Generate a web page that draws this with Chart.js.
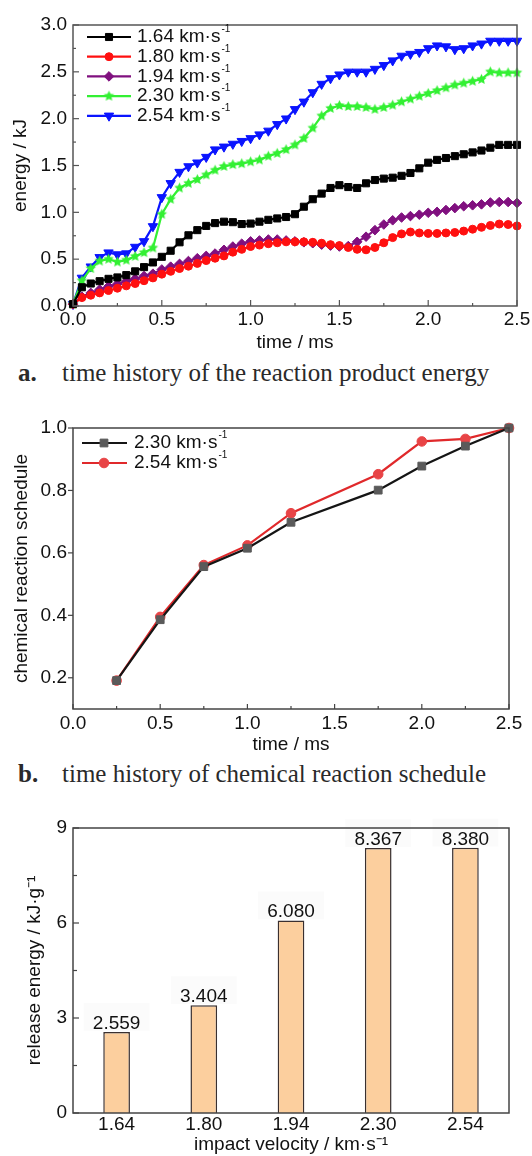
<!DOCTYPE html>
<html><head><meta charset="utf-8">
<script src="https://cdn.jsdelivr.net/npm/chart.js@4/dist/chart.umd.min.js"></script>
<style>
body{margin:0;background:#fff;width:532px;height:1156px;position:relative;overflow:hidden}
canvas{position:absolute;left:0}
.cap{position:absolute;left:0;width:532px;height:28px;line-height:28px;font-family:"Liberation Serif","DejaVu Serif",serif;font-size:25px;color:#2a2a2a;white-space:nowrap}
.cap b{position:absolute;left:18px}
.cap span{position:absolute;left:62px}
</style></head><body>
<canvas id="ca" width="532" height="356" style="top:0"></canvas>
<div class="cap" style="top:359px"><b>a.</b><span>time history of the reaction product energy</span></div>
<canvas id="cb" width="532" height="370" style="top:390px"></canvas>
<div class="cap" style="top:760px"><b>b.</b><span>time history of chemical reaction schedule</span></div>
<canvas id="cc" width="532" height="366" style="top:790px"></canvas>
<script>
// ===== data: panel a =====
const timeA = [0,0.05,0.1,0.15,0.2,0.25,0.3,0.35,0.4,0.45,0.5,0.55,0.6,0.65,0.7,0.75,0.8,0.85,0.9,0.95,1.0,1.05,1.1,1.15,1.2,1.25,1.3,1.35,1.4,1.45,1.5,1.55,1.6,1.65,1.7,1.75,1.8,1.85,1.9,1.95,2.0,2.05,2.1,2.15,2.2,2.25,2.3,2.35,2.4,2.45,2.5];
const energy164 = [0.02,0.20,0.24,0.265,0.29,0.305,0.33,0.37,0.415,0.465,0.525,0.59,0.68,0.755,0.81,0.855,0.885,0.90,0.895,0.875,0.88,0.90,0.92,0.935,0.95,0.98,1.06,1.14,1.20,1.26,1.29,1.27,1.26,1.31,1.345,1.36,1.37,1.39,1.42,1.47,1.53,1.56,1.58,1.60,1.62,1.64,1.66,1.69,1.72,1.72,1.72];
const energy180 = [0.02,0.09,0.115,0.14,0.165,0.19,0.215,0.24,0.27,0.30,0.34,0.37,0.40,0.425,0.455,0.485,0.51,0.535,0.575,0.605,0.635,0.65,0.665,0.675,0.685,0.685,0.685,0.68,0.67,0.655,0.645,0.625,0.605,0.60,0.625,0.675,0.73,0.77,0.79,0.78,0.775,0.775,0.78,0.785,0.80,0.82,0.84,0.86,0.875,0.87,0.855];
const energy194 = [0.02,0.10,0.14,0.175,0.21,0.235,0.265,0.29,0.32,0.345,0.39,0.42,0.45,0.48,0.51,0.535,0.56,0.60,0.635,0.665,0.69,0.70,0.71,0.71,0.70,0.69,0.68,0.67,0.655,0.645,0.635,0.64,0.685,0.74,0.81,0.87,0.915,0.945,0.96,0.975,0.995,1.005,1.025,1.045,1.065,1.075,1.085,1.105,1.11,1.11,1.10];
const energy230 = [0.02,0.27,0.40,0.48,0.50,0.47,0.49,0.53,0.57,0.62,0.98,1.14,1.26,1.31,1.35,1.40,1.45,1.49,1.51,1.52,1.54,1.56,1.60,1.63,1.67,1.72,1.79,1.90,2.03,2.11,2.14,2.13,2.13,2.12,2.10,2.12,2.145,2.18,2.21,2.24,2.27,2.30,2.33,2.36,2.38,2.40,2.42,2.50,2.49,2.49,2.49];
const energy254 = [0.02,0.30,0.42,0.52,0.57,0.55,0.56,0.63,0.69,0.85,1.16,1.31,1.43,1.49,1.53,1.59,1.67,1.70,1.73,1.76,1.79,1.83,1.87,1.94,2.00,2.10,2.18,2.28,2.37,2.43,2.47,2.50,2.50,2.50,2.53,2.57,2.62,2.67,2.69,2.71,2.75,2.78,2.77,2.74,2.75,2.78,2.80,2.83,2.83,2.83,2.83];
const velocityNames = ['1.64','1.80','1.94','2.30','2.54'];
const timeTicks = [0,0.5,1.0,1.5,2.0,2.5];
const timeMinor = [0.25,0.75,1.25,1.75,2.25];
const energyTicks = [0,0.5,1.0,1.5,2.0,2.5,3.0];
const energyMinor = [0.25,0.75,1.25,1.75,2.25,2.75];
// ===== data: panel b =====
const timeB = [0.25,0.5,0.75,1.0,1.25,1.75,2.0,2.25,2.5];
const schedule230 = [0.191,0.386,0.556,0.615,0.698,0.801,0.878,0.942,1.0];
const schedule254 = [0.191,0.395,0.561,0.624,0.727,0.852,0.957,0.965,1.0];
const scheduleNames = ['2.30','2.54'];
const scheduleTicks = [0.2,0.4,0.6,0.8,1.0];
// ===== data: panel c =====
const impactVelocity = ['1.64','1.80','1.94','2.30','2.54'];
const releaseEnergy = [2.559,3.404,6.080,8.367,8.380];
const releaseTicks = [0,3,6,9];
const releaseMinor = [1.5,4.5,7.5];

const F = "'Liberation Sans Narrow','Arial Narrow','Liberation Sans',Arial,sans-serif";
const FS = 19;
Chart.defaults.font.family = F;
Chart.defaults.font.size = FS;
Chart.defaults.color = '#111';

function pts(xs, ys){ return xs.map((x,i)=>({x:x, y:ys[i]})); }

function starCanvas(color, r){
  const s = Math.ceil(r*2+2), c = document.createElement('canvas');
  c.width = c.height = s;
  const g = c.getContext('2d');
  g.fillStyle = color; g.beginPath();
  for (let i=0;i<10;i++){
    const a = -Math.PI/2 + i*Math.PI/5, rr = i%2 ? r*0.48 : r;
    g.lineTo(s/2 + rr*Math.cos(a), s/2 + rr*Math.sin(a));
  }
  g.closePath(); g.fill();
  return c;
}

function framePlugin(o){
  return {id:'frame', afterDraw(chart){
    const {ctx, chartArea:a} = chart;
    ctx.save();
    ctx.strokeStyle = o.color; ctx.lineWidth = o.width;
    ctx.strokeRect(a.left, a.top, a.right-a.left, a.bottom-a.top);
    ctx.lineWidth = o.tickWidth;
    const xs = chart.scales.x, ys = chart.scales.y;
    function draw(list, len, axis, dir){
      (list||[]).forEach(v=>{
        ctx.beginPath();
        if (axis==='x'){ const p = xs.getPixelForValue(v); ctx.moveTo(p, a.bottom); ctx.lineTo(p, a.bottom - dir*len); }
        else { const p = ys.getPixelForValue(v); ctx.moveTo(a.left, p); ctx.lineTo(a.left + dir*len, p); }
        ctx.stroke();
      });
    }
    if (o.x){ draw(o.x.major, o.x.len, 'x', o.x.dir); draw(o.x.minor, o.x.mlen, 'x', o.x.dir); }
    if (o.y){ draw(o.y.major, o.y.len, 'y', o.y.dir); draw(o.y.minor, o.y.mlen, 'y', o.y.dir); }
    ctx.restore();
  }};
}

function legendPlugin(o){
  return {id:'clegend', afterDraw(chart){
    const ctx = chart.ctx;
    ctx.save();
    chart.data.datasets.forEach((ds,i)=>{
      const y = o.y0 + i*o.dy;
      ctx.strokeStyle = ds.borderColor; ctx.lineWidth = ds.borderWidth;
      ctx.beginPath(); ctx.moveTo(o.x0, y); ctx.lineTo(o.x1, y); ctx.stroke();
      ctx.fillStyle = ds.pointBackgroundColor; ctx.strokeStyle = ds.pointBorderColor; ctx.lineWidth = 1;
      Chart.helpers.drawPoint(ctx, {pointStyle: ds.pointStyle, radius: ds.pointRadius, rotation: ds.pointRotation||0, borderWidth: 1}, o.xm, y);
      ctx.fillStyle = '#111'; ctx.textBaseline = 'middle'; ctx.textAlign = 'left';
      ctx.font = o.size + 'px ' + F;
      const base = ds.legendText;
      ctx.fillText(base, o.xt, y);
      const w = ctx.measureText(base).width;
      ctx.font = Math.round(o.size*0.55) + 'px ' + F;
      ctx.fillText('-1', w + o.xt + 1, y - o.size*0.4);
    });
    ctx.restore();
  }};
}

function fixW(w){ return s=>{ s.width = w; s.paddingTop = 0; s.paddingBottom = 0; }; }
function fixH(h){ return s=>{ s.height = h; s.paddingLeft = 0; s.paddingRight = 0; }; }
function setTicks(list){ return s=>{ s.ticks = list.map(v=>({value:v})); }; }

function lineDs(name, ys, color, style, r, rot){
  return {label: name + ' km·s⁻¹', legendText: name + ' km·s', data: pts(timeA, ys), borderColor: color, borderWidth: 2.2,
    pointStyle: style, pointRadius: r, pointRotation: rot, pointBackgroundColor: color, pointBorderColor: color,
    pointBorderWidth: 1, pointHoverRadius: r, clip: false, tension: 0};
}

// ===== chart a =====
new Chart(document.getElementById('ca'), {
  type: 'line',
  data: {datasets: [
    lineDs(velocityNames[0], energy164, '#000000', 'rect', 5, 0),
    lineDs(velocityNames[1], energy180, '#ff1010', 'circle', 4, 0),
    lineDs(velocityNames[2], energy194, '#80107f', 'rectRot', 4.8, 0),
    lineDs(velocityNames[3], energy230, '#33f033', starCanvas('#33f033', 5.5), 5.5, 0),
    lineDs(velocityNames[4], energy254, '#0a14ff', 'triangle', 5.4, 180)
  ]},
  options: {
    responsive: false, animation: false,
    layout: {padding: {top: 25, right: 15, left: 0, bottom: 0}},
    plugins: {legend: {display: false}, tooltip: {enabled: false}},
    scales: {
      x: {type: 'linear', min: 0, max: 2.5, afterFit: fixH(50), afterBuildTicks: setTicks(timeTicks),
        ticks: {padding: 2, maxRotation: 0, autoSkip: false, callback: v=>v.toFixed(1)},
        grid: {display: false, drawTicks: false}, border: {display: false},
        title: {display: true, text: 'time / ms', padding: {top: 0, bottom: 2}}},
      y: {type: 'linear', min: 0, max: 3, afterFit: fixW(73), afterBuildTicks: setTicks(energyTicks),
        ticks: {padding: 6, autoSkip: false, callback: v=>v.toFixed(1)},
        grid: {display: false, drawTicks: false}, border: {display: false},
        title: {display: true, text: 'energy / kJ', padding: {top: 9, bottom: 0}}}
    }
  },
  plugins: [framePlugin({color:'#555', width:1.5, tickWidth:1.2,
    x:{major:timeTicks, minor:timeMinor, len:6, mlen:3, dir:1},
    y:{major:energyTicks, minor:energyMinor, len:6, mlen:3, dir:1}}),
    legendPlugin({x0:87, x1:131, xm:109, xt:137, y0:37, dy:19.7, size:FS})]
});

// ===== chart b =====
new Chart(document.getElementById('cb'), {
  type: 'line',
  data: {datasets: [
    {label: scheduleNames[0] + ' km·s⁻¹', legendText: scheduleNames[0] + ' km·s', data: pts(timeB, schedule230), borderColor: '#151515', borderWidth: 2.2,
      pointStyle: 'rect', pointRadius: 5.5, pointBackgroundColor: '#5a5a5a', pointBorderColor: '#5a5a5a', pointBorderWidth: 1, clip: false},
    {label: scheduleNames[1] + ' km·s⁻¹', legendText: scheduleNames[1] + ' km·s', data: pts(timeB, schedule254), borderColor: '#e0292b', borderWidth: 2.2,
      pointStyle: 'circle', pointRadius: 4.8, pointBackgroundColor: '#e84446', pointBorderColor: '#e84446', pointBorderWidth: 1, clip: false}
  ]},
  options: {
    responsive: false, animation: false,
    layout: {padding: {top: 38, right: 23, left: 0, bottom: 0}},
    plugins: {legend: {display: false}, tooltip: {enabled: false}},
    scales: {
      x: {type: 'linear', min: 0, max: 2.5, afterFit: fixH(51), afterBuildTicks: setTicks(timeTicks),
        ticks: {padding: 3, maxRotation: 0, autoSkip: false, callback: v=>v.toFixed(1)},
        grid: {display: false, drawTicks: false}, border: {display: false},
        title: {display: true, text: 'time / ms', padding: {top: 0, bottom: 4}}},
      y: {type: 'linear', min: 0.1, max: 1.0, afterFit: fixW(73), afterBuildTicks: setTicks(scheduleTicks),
        ticks: {padding: 6, autoSkip: false, callback: v=>v.toFixed(1)},
        grid: {display: false, drawTicks: false}, border: {display: false},
        title: {display: true, text: 'chemical reaction schedule', padding: {top: 10, bottom: 0}}}
    }
  },
  plugins: [framePlugin({color:'#444', width:1.5, tickWidth:1.2,
    x:{major:timeTicks, minor:timeMinor, len:5, mlen:3, dir:1},
    y:{major:scheduleTicks, minor:[], len:5, mlen:3, dir:-1}}),
    legendPlugin({x0:82, x1:127, xm:104, xt:134, y0:53, dy:20, size:FS})]
});

// ===== chart c =====
const barLabelPlugin = {id:'barLabels', afterDatasetsDraw(chart){
  const ctx = chart.ctx, meta = chart.getDatasetMeta(0), ds = chart.data.datasets[0];
  ctx.save();
  ctx.font = FS + 'px ' + F; ctx.textAlign = 'center'; ctx.textBaseline = 'alphabetic';
  meta.data.forEach((bar,i)=>{
    const txt = ds.data[i].toFixed(3);
    ctx.fillStyle = 'rgba(0,0,0,0.015)';
    ctx.fillRect(bar.x - 33, bar.y - 29, 66, 28);
    ctx.fillStyle = '#111';
    ctx.fillText(txt, bar.x, bar.y - 3);
  });
  ctx.restore();
}};
new Chart(document.getElementById('cc'), {
  type: 'bar',
  data: {labels: impactVelocity, datasets: [{label: 'release energy', data: releaseEnergy,
    backgroundColor: '#fccf9e', borderColor: '#3a3030', borderWidth: 1.5, categoryPercentage: 1, barPercentage: 0.306}]},
  options: {
    responsive: false, animation: false,
    layout: {padding: {top: 38, right: 23, left: 0, bottom: 0}},
    plugins: {legend: {display: false}, tooltip: {enabled: false}},
    scales: {
      x: {afterFit: fixH(43), ticks: {padding: 0, maxRotation: 0, autoSkip: false},
        grid: {display: false, drawTicks: false}, border: {display: false},
        title: {display: true, text: 'impact velocity / km·s⁻¹', padding: {top: 0, bottom: 0}}},
      y: {type: 'linear', min: 0, max: 9, afterFit: fixW(73), afterBuildTicks: setTicks(releaseTicks),
        ticks: {padding: 6, autoSkip: false, callback: v=>String(v)},
        grid: {display: false, drawTicks: false}, border: {display: false},
        title: {display: true, text: 'release energy / kJ·g⁻¹', padding: {top: 23, bottom: 0}}}
    }
  },
  plugins: [framePlugin({color:'#444', width:1.5, tickWidth:1.2,
    y:{major:releaseTicks, minor:releaseMinor, len:6, mlen:4, dir:1}}), barLabelPlugin]
});
</script>
</body></html>
